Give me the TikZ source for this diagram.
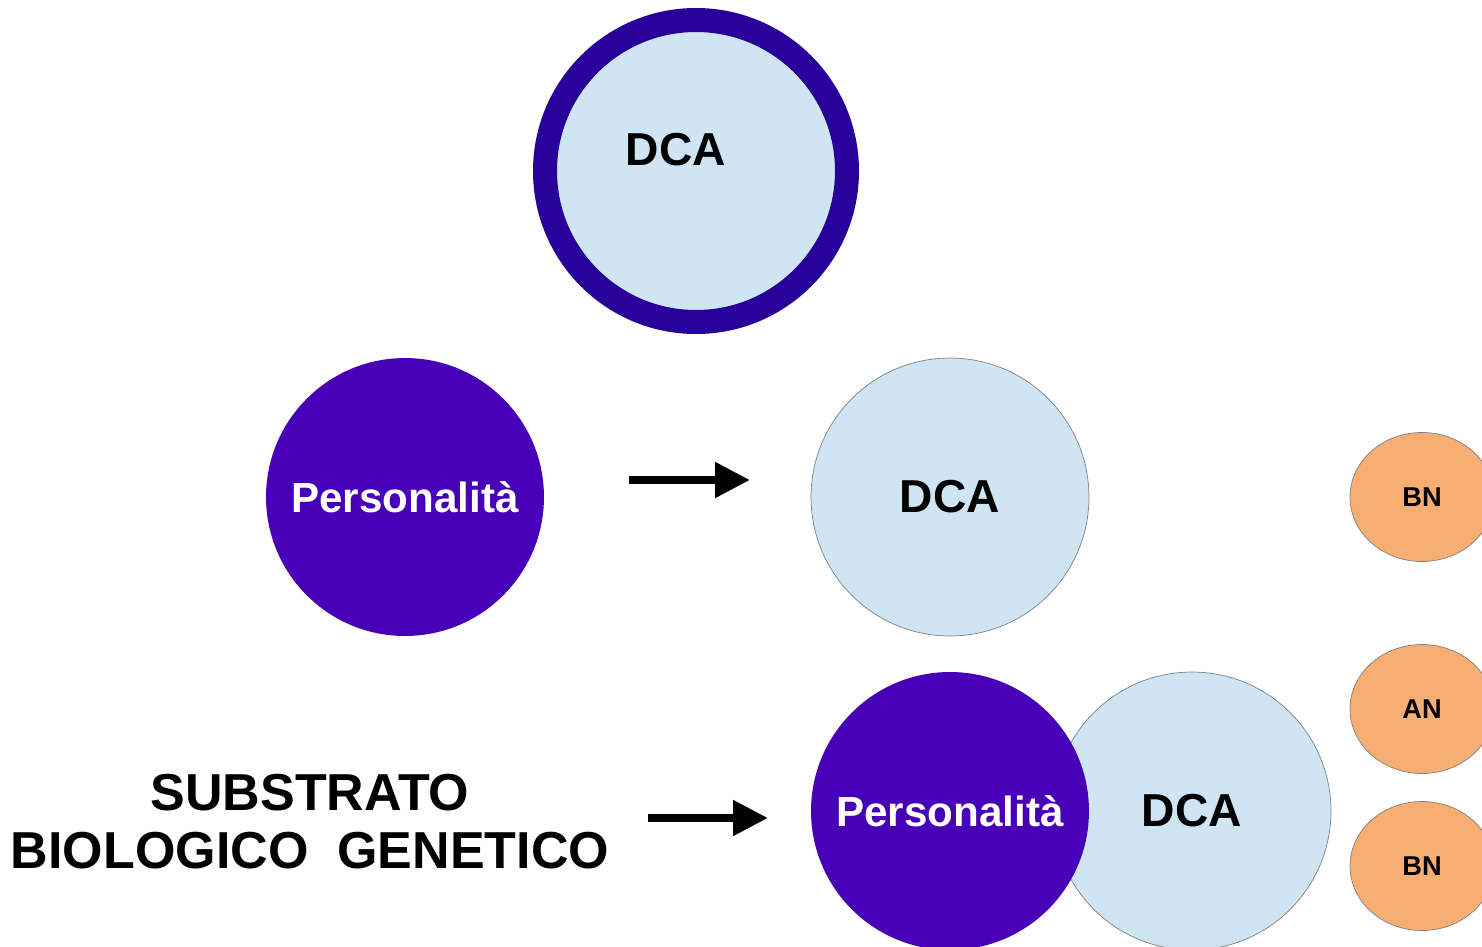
\documentclass[tikz,border=0pt]{standalone}
\usepackage{fontspec}
\setmainfont{Liberation Sans}
\usetikzlibrary{arrows.meta,shapes.geometric}

\definecolor{dcablue}{HTML}{CFE5F3}
\definecolor{perspurple}{HTML}{4700B8}
\definecolor{ringblue}{HTML}{28009A}
\definecolor{kindorange}{HTML}{F6AE72}

\tikzset{
  dcacircle/.style={circle, fill=dcablue, draw=gray, line width=0.4pt,
    minimum size=5.56cm, inner sep=0pt, font=\fontsize{26.3}{30}\selectfont\bfseries},
  perscircle/.style={circle, fill=perspurple, text=white,
    minimum size=5.56cm, inner sep=0pt, font=\fontsize{24}{28}\selectfont\bfseries},
  kindoval/.style={ellipse, fill=kindorange, draw=gray, line width=0.4pt,
    minimum width=2.88cm, minimum height=2.58cm, inner sep=0pt,
    font=\fontsize{15.5}{18}\selectfont\bfseries},
  bigarrow/.style={line width=0.16cm, -{Triangle[length=0.7cm, width=0.68cm]}},
}

\begin{document}
\begin{tikzpicture}[x=0.02cm, y=-0.02cm]
  % Fix the page to the reference size
  \useasboundingbox (0, 0) rectangle (1482, 947);
  % Top circle with the thick ring
  \begin{scope}
    \draw[ringblue, fill=dcablue, line width=0.48cm] (696, 171) circle (151);
    \node[font=\fontsize{26.3}{30}\selectfont\bfseries] (dcatop) at (676, 150) {DCA};
  \end{scope}
  % Middle row
  \begin{scope}
    \node[perscircle] (persmid) at (405, 497) {Personalità};
    \node[dcacircle] (dcamid) at (950, 497) {DCA};
    \coordinate (arrowmidstart) at (629, 480);
    \coordinate (arrowmidend) at (750, 480);
    \draw[bigarrow] (arrowmidstart) -- (arrowmidend);
  \end{scope}
  % Bottom row, the DCA circle goes behind
  \begin{scope}
    \node[dcacircle] (dcalow) at (1192, 811) {DCA};
    \node[perscircle] (perslow) at (950, 811) {Personalità};
    \node[align=center, font=\fontsize{29.6}{33}\selectfont\bfseries] (substrato)
      at (310, 822) {SUBSTRATO\\BIOLOGICO\ \ GENETICO};
    \coordinate (arrowlowstart) at (648, 818);
    \coordinate (arrowlowend) at (768, 818);
    \draw[bigarrow] (arrowlowstart) -- (arrowlowend);
  \end{scope}
  % Orange ovals on the right edge
  \begin{scope}
    \node[kindoval] (bnmid) at (1422, 497) {BN};
    \node[kindoval] (anlow) at (1422, 709) {AN};
    \node[kindoval] (bnlow) at (1422, 866) {BN};
  \end{scope}
\end{tikzpicture}
\end{document}
